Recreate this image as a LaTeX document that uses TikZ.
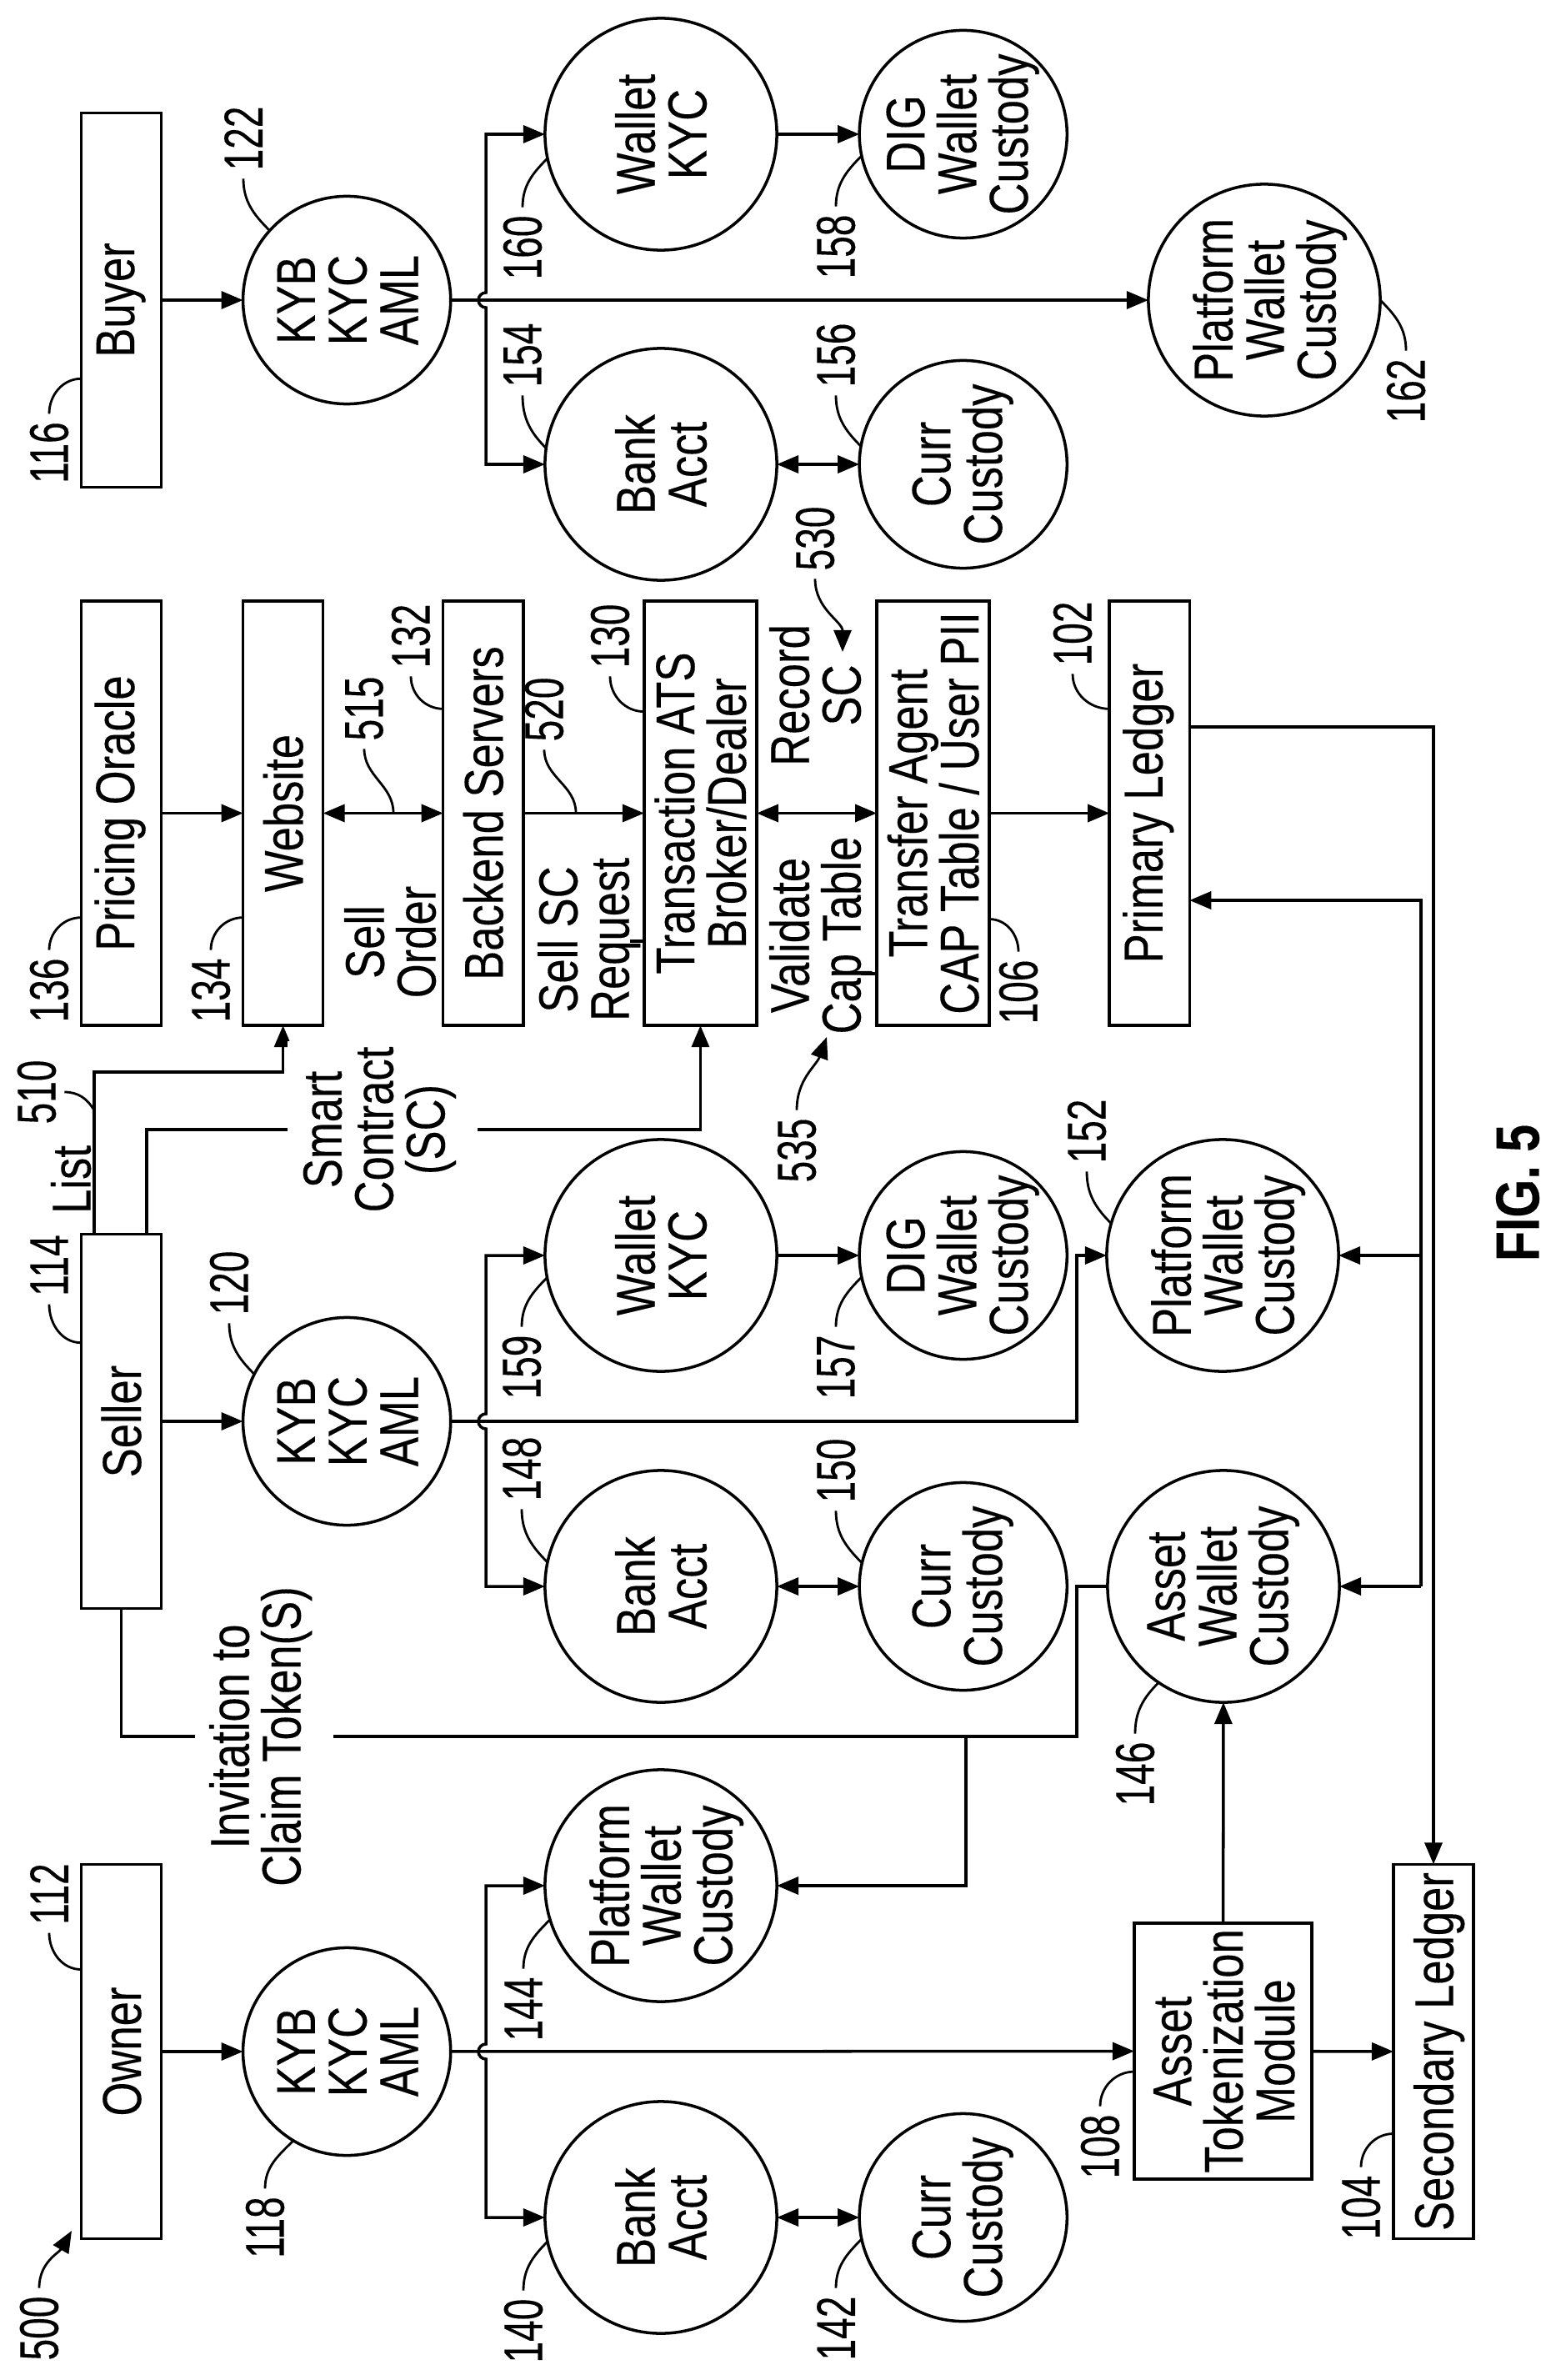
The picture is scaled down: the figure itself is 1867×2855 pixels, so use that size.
\documentclass[tikz,border=0pt]{standalone}
\usepackage{fontspec}
\usepackage{array}
\usepackage{tikz}
\usetikzlibrary{arrows.meta, positioning, calc}
\setmainfont{Liberation Sans}[FakeStretch=0.8, FakeBold=0.2]
\newfontfamily\numfont{Liberation Sans}[FakeStretch=0.7, FakeBold=0.2]
\newcolumntype{S}{>{\setbox0=\hbox\bgroup}c<{\egroup\smash{\box0}}}
\newcommand{\vt}[1]{\begin{tabular}{@{}S@{}}#1\end{tabular}}

\begin{document}
\begin{tikzpicture}[
    x=0.01cm, y=-0.01cm,
    every node/.style={font=\fontsize{18.7}{17.6}\selectfont, inner sep=0pt, outer sep=0pt},
    every path/.style={line width=1pt},
    txt/.style={xshift=3.2pt, rotate=90},
    caption/.style={label={[txt]center:{\vt{#1}}}},
    leftcaption/.style={label={[xshift=-2.3pt, txt]center:{\vt{#1}}}},
    bar/.style={rectangle, draw, minimum width=0.96cm, minimum height=4.49cm},
    tallbar/.style={rectangle, draw, minimum width=0.96cm, minimum height=5.09cm},
    widebar/.style={rectangle, draw, minimum width=1.35cm, minimum height=5.09cm},
    bigdisc/.style={circle, draw, minimum size=2.78cm},
    smalldisc/.style={circle, draw, minimum size=2.49cm},
    refno/.style={rotate=90, font=\fontsize{18.7}{17.6}\numfont, outer sep=0.1cm},
    flow/.style={-{Triangle[length=2.6mm,width=2.1mm]}},
    twoway/.style={{Triangle[length=2.6mm,width=2.1mm]}-{Triangle[length=2.6mm,width=2.1mm]}},
    leader/.style={line width=0.8pt}
]
\useasboundingbox (0,0) rectangle (1867,2855);

\node[bar, leftcaption={Buyer}] (buyer) at (145.5,360) {};
\node[smalldisc, caption={KYB\\KYC\\AML}, right=0.98cm of buyer] (kycbuyer) {};
\node[bigdisc, caption={Wallet\\KYC}] (walletb) at (793,161) {};
\node[bigdisc, caption={Bank\\Acct}] (bankb) at (793,557) {};
\node[smalldisc, leftcaption={DIG\\Wallet\\Custody}, right=0.99cm of walletb] (digb) {};
\node[smalldisc, leftcaption={Curr\\Custody}, right=0.99cm of bankb] (currb) {};
\node[bigdisc, caption={Platform\\Wallet\\Custody}] (platformb) at (1517,360) {};

\node[tallbar, leftcaption={Pricing Oracle}] (pricing) at (145.5,975.5) {};
\node[tallbar, caption={Website}, right=0.98cm of pricing] (website) {};
\node[tallbar, caption={Backend Servers}, right=1.44cm of website] (backend) {};
\node[widebar, caption={Transaction ATS\\Broker/Dealer}, right=1.45cm of backend] (transaction) {};
\node[widebar, caption={Transfer Agent\\CAP Table / User PII}, right=1.44cm of transaction] (transfer) {};
\node[tallbar, leftcaption={Primary Ledger}, right=1.44cm of transfer] (primary) {};

\node[bar, caption={Seller}] (seller) at (145.5,1705) {};
\node[smalldisc, caption={KYB\\KYC\\AML}, right=0.98cm of seller] (kycseller) {};
\node[bigdisc, caption={Wallet\\KYC}] (walletm) at (793,1506) {};
\node[bigdisc, caption={Bank\\Acct}] (bankm) at (793,1903) {};
\node[smalldisc, leftcaption={DIG\\Wallet\\Custody}, right=0.99cm of walletm] (digm) {};
\node[smalldisc, leftcaption={Curr\\Custody}, right=0.99cm of bankm] (currm) {};
\node[bigdisc, caption={Platform\\Wallet\\Custody}] (platformm) at (1467,1506) {};
\node[bigdisc, leftcaption={Asset\\Wallet\\Custody}] (assetw) at (1468,1903) {};

\node[bar, caption={Owner}] (owner) at (145.5,2461) {};
\node[smalldisc, caption={KYB\\KYC\\AML}, right=0.98cm of owner] (kycowner) {};
\node[bigdisc, caption={Platform\\Wallet\\Custody}] (platformo) at (793,2262) {};
\node[bigdisc, caption={Bank\\Acct}] (banko) at (793,2660) {};
\node[smalldisc, leftcaption={Curr\\Custody}, right=0.99cm of banko] (curro) {};
\node[rectangle, draw, minimum width=2.13cm, minimum height=3.07cm, caption={Asset\\Tokenization\\Module}] (tokenize) at (1467.5,2460.5) {};
\node[bar, caption={Secondary Ledger}] (secondary) at (1720,2461) {};

\coordinate (hopb) at (583,360);
\coordinate (hopm) at (583,1705);
\coordinate (hopo) at (583,2461);
\coordinate (riser) at (1292,1705);
\coordinate (claimcorner) at (1292,2083);
\coordinate (claimtap) at (1159,2083);
\coordinate (listcorner) at (113,1286);
\coordinate (sccorner) at (176,1355);
\coordinate (ledgerbus) at (1500,872);
\coordinate (busin) at (1500,1080);
\coordinate (busend) at (1705,1903);

\draw[flow] (buyer) -- (kycbuyer);
\draw[flow] (kycbuyer) -- (platformb);
\draw[twoway] (walletb.west) -| ($(hopb)+(0,-9)$) arc[start angle=90, end angle=270, radius=0.09cm] |- (bankb.west);
\draw[flow] (walletb) -- (digb);
\draw[twoway] (bankb) -- (currb);

\draw[flow] (pricing) -- (website);
\draw[twoway] (website) -- (backend);
\draw[flow] (backend) -- (transaction);
\draw[twoway] (transaction) -- (transfer);
\draw[flow] (transfer) -- (primary);

\draw[flow] (seller) -- (kycseller);
\draw[flow] (kycseller) -- (riser) |- (platformm.west);
\draw[twoway] (walletm.west) -| ($(hopm)+(0,-9)$) arc[start angle=90, end angle=270, radius=0.09cm] |- (bankm.west);
\draw[flow] (walletm) -- (digm);
\draw[twoway] (bankm) -- (currm);

\draw[flow] (owner) -- (kycowner);
\draw[flow] (kycowner) -- (tokenize);
\draw[flow] (tokenize) -- (secondary);
\draw[twoway] (platformo.west) -| ($(hopo)+(0,-9)$) arc[start angle=90, end angle=270, radius=0.09cm] |- (banko.west);
\draw[twoway] (banko) -- (curro);
\draw[flow] (tokenize) -- (assetw);

\draw[flow] (seller.north -| listcorner) -- (listcorner) -| (website.south);
\draw[flow] (seller.north -| sccorner) -- (sccorner) -| (transaction.south);
\draw (seller.south) |- (claimcorner) |- (assetw.west);
\draw[flow] (claimtap) |- (platformo.east);

\draw[flow] (primary.east |- ledgerbus) -| (secondary.north);
\draw[flow] (busend) |- (primary.east |- busin);
\draw[flow] (busend) -- (assetw.east);
\draw[flow] (busend |- platformm) -- (platformm.east);

\node[txt, fill=white, inner xsep=2pt, inner ysep=6pt] (sctext) at (448,1355) {\vt{Smart\\Contract\\(SC)}};
\node[txt, fill=white, inner xsep=2pt, inner ysep=6pt] (claimtext) at (306,2083) {\vt{Invitation to\\Claim Token(S)}};
\node[txt] (listtext) at (85,1415) {\vt{List}};
\node[txt] (selltext) at (468,1130) {\vt{Sell\\Order}};
\node[txt] (requesttext) at (700,1127) {\vt{Sell SC\\Request}};
\node[txt] (recordtext) at (978,834) {\vt{Record\\SC}};
\node[txt] (validatetext) at (978,1122) {\vt{Validate\\Cap Table}};
\node[rotate=90, font=\fontsize{21}{21}\bfseries\selectfont] (figure) at (1821,1431) {FIG. 5};

\coordinate (requeststub) at (756,1129);
\coordinate (capstub) at (1033,1168);
\draw (requeststub) -- (transaction.west |- requeststub);
\draw (capstub) -- (transfer.west |- capstub);

\node[refno] (n116) at (59,543) {116};
\node[refno] (n122) at (292,166) {122};
\node[refno] (n160) at (627,297) {160};
\node[refno] (n154) at (627,426) {154};
\node[refno] (n158) at (1003,296) {158};
\node[refno] (n156) at (1003,426) {156};
\node[refno] (n162) at (1687,469) {162};
\node[refno] (n136) at (59,1188) {136};
\node[refno] (n134) at (253,1188) {134};
\node[refno] (n515) at (437,850) {515};
\node[refno] (n132) at (493,763) {132};
\node[refno] (n520) at (653,851) {520};
\node[refno] (n130) at (732,763) {130};
\node[refno] (n530) at (978,646) {530};
\node[refno] (n535) at (956,1380) {535};
\node[refno] (n106) at (1222,1190) {106};
\node[refno] (n102) at (1287,760) {102};
\node[refno] (n152) at (1304,1357) {152};
\node[refno] (n510) at (44,1310) {510};
\node[refno] (n114) at (59,1518) {114};
\node[refno] (n120) at (275,1539) {120};
\node[refno] (n159) at (626,1640) {159};
\node[refno] (n148) at (626,1762) {148};
\node[refno] (n157) at (1003,1640) {157};
\node[refno] (n150) at (1003,1764) {150};
\node[refno] (n146) at (1362,2128) {146};
\node[refno] (n112) at (59,2272) {112};
\node[refno] (n118) at (318,2672) {118};
\node[refno] (n144) at (628,2410) {144};
\node[refno] (n108) at (1320,2575) {108};
\node[refno] (n104) at (1633,2648) {104};
\node[refno] (n140) at (628,2796) {140};
\node[refno] (n142) at (1003,2793) {142};
\node[refno] (n500) at (47,2793) {500};

\coordinate (tap515) at (472,975);
\coordinate (tap520) at (691,975);
\coordinate (tap510) at (113,1332);
\coordinate (tip530) at (1011,782);
\coordinate (tip535) at (992,1244);
\coordinate (tip500) at (86,2676);

\draw[leader] (n116.east) to[out=90,in=180] (buyer.243);
\draw[leader] (n122.west) to[out=-90,in=135] (kycbuyer.138);
\draw[leader] (n160.east) to[out=90,in=-135] (walletb.192);
\draw[leader] (n154.west) to[out=-90,in=135] (bankb.172);
\draw[leader] (n158.east) to[out=90,in=-135] (digb.192);
\draw[leader] (n156.west) to[out=-90,in=135] (currb.170);
\draw[leader] (n162.east) to[out=90,in=-45] (platformb.0);
\draw[leader] (n136.east) to[out=90,in=180] (pricing.249);
\draw[leader] (n134.east) to[out=90,in=180] (website.249);
\draw[leader] (n132.west) to[out=-90,in=180] (backend.111);
\draw[leader] (n130.west) to[out=-90,in=180] (transaction.119);
\draw[leader] (n515.west) to[out=-90,in=90] (tap515);
\draw[leader] (n520.west) to[out=-90,in=90] (tap520);
\draw[leader,flow] (n530.west) to[out=-90,in=90] (tip530);
\draw[leader,flow] (n535.east) to[out=90,in=-110] (tip535);
\draw[leader] (n106.east) to[out=90,in=0] (transfer.298);
\draw[leader] (n102.west) to[out=-90,in=180] (primary.111.5);
\draw[leader] (n152.west) to[out=-90,in=135] (platformm.164);
\draw[leader] (n510.south) to[out=0,in=120] (tap510);
\draw[leader] (n114.west) to[out=-90,in=180] (seller.117);
\draw[leader] (n120.west) to[out=-90,in=135] (kycseller.153);
\draw[leader] (n159.east) to[out=90,in=-135] (walletm.191);
\draw[leader] (n148.west) to[out=-90,in=135] (bankm.168);
\draw[leader] (n157.east) to[out=90,in=-135] (digm.192);
\draw[leader] (n150.west) to[out=-90,in=135] (currm.167);
\draw[leader] (n146.east) to[out=90,in=-135] (assetw.236);
\draw[leader] (n112.west) to[out=-90,in=180] (owner.116);
\draw[leader] (n118.east) to[out=90,in=-135] (kycowner.239);
\draw[leader] (n144.east) to[out=90,in=-135] (platformo.197);
\draw[leader] (n108.east) to[out=90,in=180] (tokenize.193);
\draw[leader] (n104.east) to[out=90,in=180] (secondary.244);
\draw[leader] (n140.east) to[out=90,in=-135] (banko.192);
\draw[leader] (n142.east) to[out=90,in=-135] (curro.192);
\draw[leader,flow] (n500.east) to[out=90,in=-120] (tip500);

\end{tikzpicture}
\end{document}
